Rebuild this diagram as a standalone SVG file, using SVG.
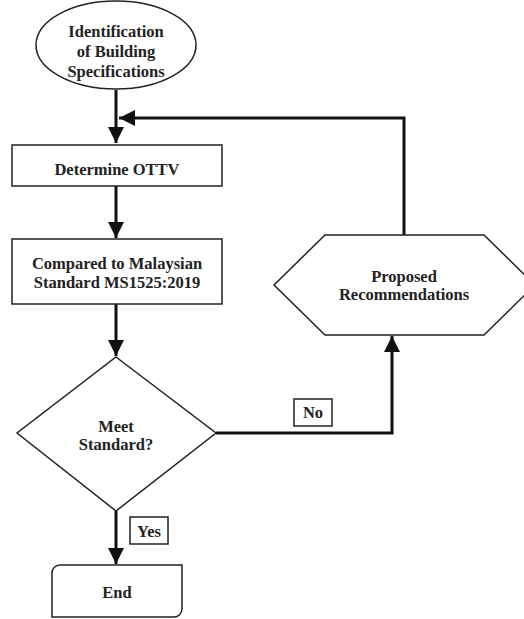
<svg xmlns="http://www.w3.org/2000/svg" width="524" height="619" viewBox="0 0 524 619">
<style>
.s{fill:#fff;stroke:#222;stroke-width:1.5}
.c{fill:none;stroke:#111;stroke-width:3}
.t{font-family:"Liberation Serif","Times New Roman",serif;font-weight:bold;font-size:16.5px;fill:#222;text-anchor:middle}
.lb{fill:#fff;stroke:#222;stroke-width:1.5}
</style>
<defs>
<marker id="ah" markerUnits="userSpaceOnUse" markerWidth="16" markerHeight="16" viewBox="0 0 16 16" refX="16" refY="8" orient="auto">
<path d="M0,0 L16,8 L0,16 Z" fill="#111"/>
</marker>
</defs>
<g id="connectors">
<path class="c" d="M116,90 V143" marker-end="url(#ah)"/>
<path class="c" d="M404,235 V118 H119" marker-end="url(#ah)"/>
<path class="c" d="M116,186 V238" marker-end="url(#ah)"/>
<path class="c" d="M116,304 V356" marker-end="url(#ah)"/>
<path class="c" d="M116,511 V564" marker-end="url(#ah)"/>
<path class="c" d="M216,433 H392 V336" marker-end="url(#ah)"/>
</g>
<g id="start">
<ellipse class="s" cx="116" cy="45" rx="80" ry="44"/>
<text class="t" x="116" y="37">Identification</text>
<text class="t" x="116" y="57">of Building</text>
<text class="t" x="116" y="77">Specifications</text>
</g>
<g id="ottv">
<rect class="s" x="12" y="145" width="210" height="41"/>
<text class="t" x="117" y="175">Determine OTTV</text>
</g>
<g id="compare">
<rect class="s" x="12" y="239" width="210" height="65"/>
<text class="t" x="117" y="269">Compared to Malaysian</text>
<text class="t" x="117" y="288">Standard MS1525:2019</text>
</g>
<g id="decision">
<polygon class="s" points="116,357 216,433 116,511 17,433"/>
<text class="t" x="116" y="432">Meet</text>
<text class="t" x="116" y="450">Standard?</text>
</g>
<g id="recommend">
<polygon class="s" points="325,235 484,235 535,285 484,335 325,335 274,285"/>
<text class="t" x="404" y="282">Proposed</text>
<text class="t" x="404" y="300">Recommendations</text>
</g>
<g id="end">
<path class="s" d="M60,565 H182 V609 A8,8 0 0 1 174,617 H52 V573 A8,8 0 0 1 60,565 Z"/>
<text class="t" x="117" y="598">End</text>
</g>
<g id="label-yes">
<rect class="lb" x="130" y="517" width="38" height="27"/>
<text class="t" x="149" y="537">Yes</text>
</g>
<g id="label-no">
<rect class="lb" x="294" y="399" width="38" height="27"/>
<text class="t" x="313" y="418">No</text>
</g>
</svg>
